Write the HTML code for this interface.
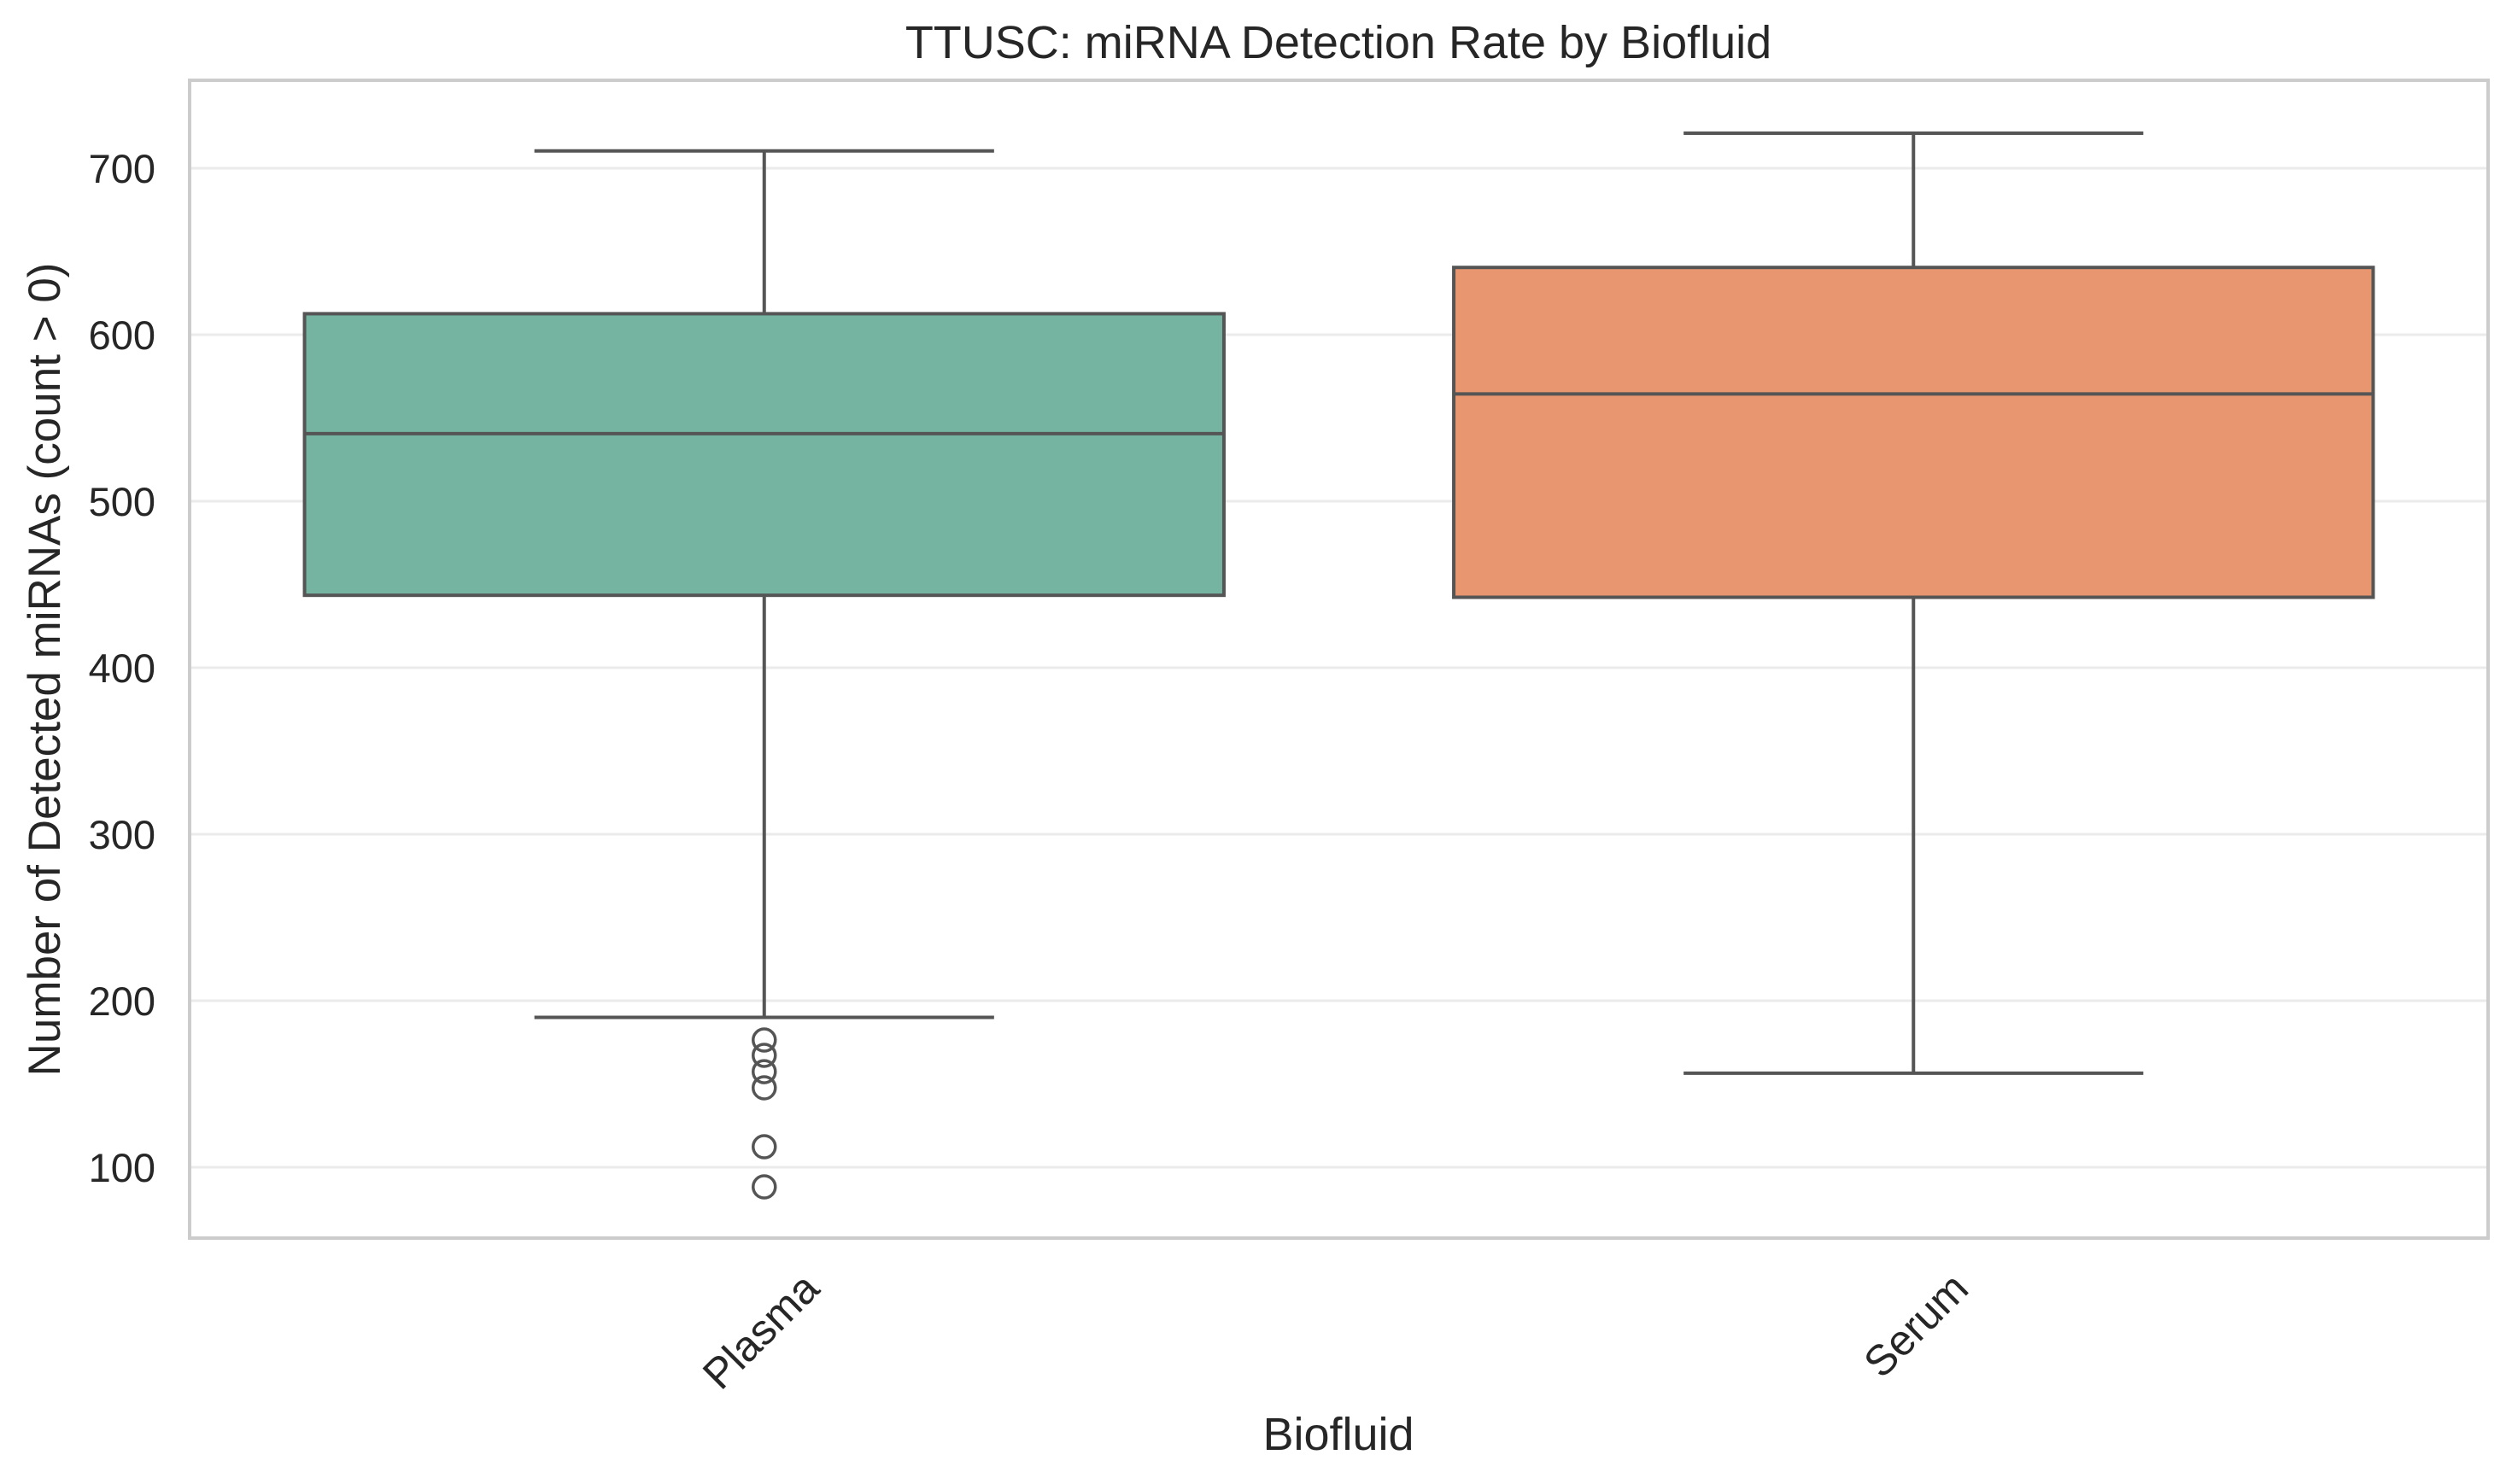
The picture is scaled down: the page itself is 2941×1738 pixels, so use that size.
<!DOCTYPE html>
<html><head><meta charset="utf-8"><style>
body{margin:0;background:#fff}
svg{display:block;font-family:"Liberation Sans",sans-serif}
</style></head><body>
<svg id="chart" width="2941" height="1738">
<text x="1567" y="68" text-anchor="middle" font-size="54" fill="#262626">TTUSC: miRNA Detection Rate by Biofluid</text>
<g id="grid"></g>
<g id="yticks"></g>
<g id="boxes"></g>
<rect x="222" y="94" width="2691" height="1356" fill="none" stroke="#cccccc" stroke-width="4"/>
<g id="xticks"></g>
<text x="1567" y="1698" text-anchor="middle" font-size="54" fill="#262626">Biofluid</text>
<text transform="translate(70,784) rotate(-90)" text-anchor="middle" font-size="53" fill="#262626">Number of Detected miRNAs (count &gt; 0)</text>
</svg>
<script>
const categories = ["Plasma", "Serum"];
const whiskerLow = [190, 156.5];
const q1 = [443.5, 442.3];
const medians = [540.6, 564.4];
const q3 = [612.6, 640.4];
const whiskerHigh = [710.4, 721];
const outliers = [[176.4, 167.2, 157.4, 147.7, 112.3, 88.2], []];
const colors = ["#74b4a0", "#e8966f"];
const yTicks = [100, 200, 300, 400, 500, 600, 700];

const NS = "http://www.w3.org/2000/svg";
const L = 222, R = 2913, T = 94, B = 1450;
function y(v){ return 1367 - (v - 100) * 1.95; }
function xc(i){ return L + (R - L) * (i + 0.5) / categories.length; }
const bandW = (R - L) / categories.length;
function mk(tag, attrs, parent){
  const e = document.createElementNS(NS, tag);
  for (const k in attrs) e.setAttribute(k, attrs[k]);
  parent.appendChild(e);
  return e;
}
const grid = document.getElementById("grid");
const yt = document.getElementById("yticks");
yTicks.forEach(v => {
  const g = mk("line", {x1: L, x2: R, y1: y(v), y2: y(v), stroke: "#ebebeb", "stroke-width": 3}, grid);
  
  
  const t = mk("text", {x: 182, y: y(v) + 17, "text-anchor": "end", "font-size": 47, fill: "#262626"}, yt);
  t.textContent = v;
  
  
});
const bx = document.getElementById("boxes");
const xt = document.getElementById("xticks");
categories.forEach((c, i) => {
  const cx = xc(i), bw = bandW * 0.8, cw = bw * 0.5;
  const st = {stroke: "#555555", "stroke-width": 4};
  const w1 = mk("line", Object.assign({x1: cx, x2: cx, y1: y(q3[i]), y2: y(whiskerHigh[i])}, st), bx);
  
  
  const w2 = mk("line", Object.assign({x1: cx, x2: cx, y1: y(q1[i]), y2: y(whiskerLow[i])}, st), bx);
  
  
  const c1 = mk("line", Object.assign({x1: cx - cw/2, x2: cx + cw/2, y1: y(whiskerHigh[i]), y2: y(whiskerHigh[i])}, st), bx);
  
  
  const c2 = mk("line", Object.assign({x1: cx - cw/2, x2: cx + cw/2, y1: y(whiskerLow[i]), y2: y(whiskerLow[i])}, st), bx);
  
  
  const r = mk("rect", Object.assign({x: cx - bw/2, y: y(q3[i]), width: bw, height: y(q1[i]) - y(q3[i]), fill: colors[i]}, st), bx);
  
  
  const m = mk("line", Object.assign({x1: cx - bw/2, x2: cx + bw/2, y1: y(medians[i]), y2: y(medians[i])}, st), bx);
  
  
  outliers[i].forEach(v => {
    const o = mk("ellipse", {cx: cx, cy: y(v), rx: 13, ry: 13, fill: "none", stroke: "#555555", "stroke-width": 3.5}, bx);
    
    
  });
  const t = mk("text", {transform: "translate(" + (cx + 67) + ",1512) rotate(-45)", "text-anchor": "end", "font-size": 50, fill: "#262626"}, xt);
  t.textContent = c;
  
  
});
</script>
</body></html>
